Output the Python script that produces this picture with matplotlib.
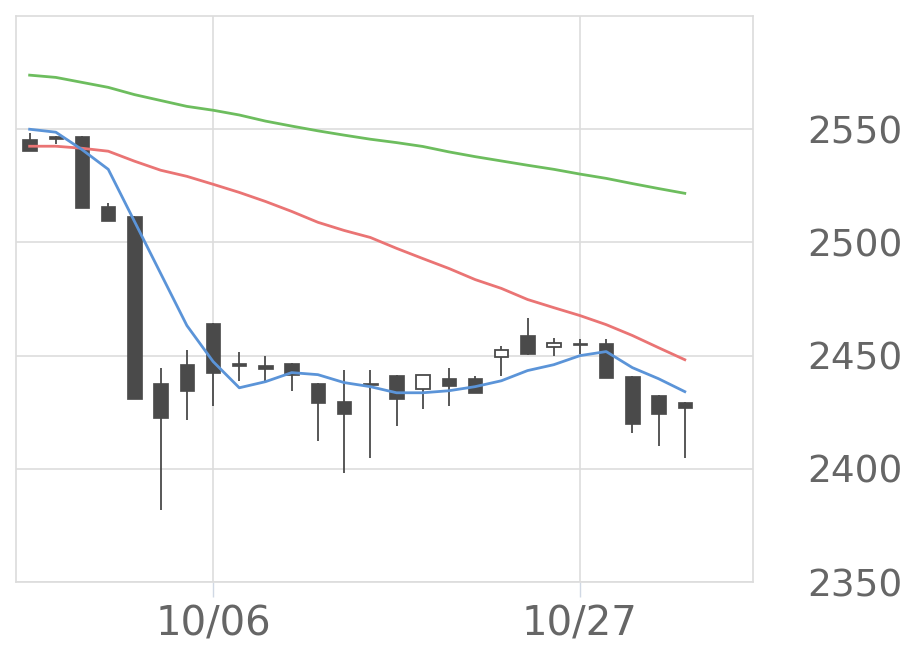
import matplotlib
matplotlib.use("Agg")
import matplotlib.pyplot as plt
import numpy as np

# trading days, 2014/09/25 - 2014/10/31
dates = ["09/25", "09/26", "09/29", "09/30", "10/01", "10/02", "10/03",
         "10/06", "10/07", "10/08", "10/09", "10/10", "10/14", "10/15",
         "10/16", "10/17", "10/20", "10/21", "10/22", "10/23", "10/24",
         "10/27", "10/28", "10/29", "10/30", "10/31"]

opens = [2545.6, 2546.9, 2546.9, 2515.9, 2511.5, 2438.1, 2446.5, 2464.6, 2446.9, 2446.0,
         2446.9, 2438.1, 2430.1, 2438.1, 2441.6, 2435.4, 2440.3, 2440.3, 2449.6, 2458.9,
         2454.0, 2455.8, 2455.8, 2441.2, 2432.7, 2429.7]
highs = [2548.2, 2546.9, 2546.9, 2517.3, 2511.5, 2444.7, 2452.7, 2464.6, 2451.8, 2450.0,
         2446.9, 2438.1, 2443.8, 2443.8, 2441.6, 2441.6, 2444.7, 2441.2, 2454.4, 2466.8,
         2458.0, 2457.5, 2457.5, 2441.2, 2432.7, 2429.7]
lows = [2540.3, 2543.4, 2515.0, 2509.3, 2431.0, 2381.9, 2421.7, 2427.9, 2438.9, 2438.5,
        2434.5, 2412.4, 2398.2, 2404.9, 2419.0, 2426.6, 2427.9, 2433.3, 2441.2, 2450.5,
        2450.0, 2450.9, 2440.3, 2415.9, 2410.2, 2404.9]
closes = [2540.3, 2545.6, 2515.0, 2509.3, 2431.0, 2422.6, 2434.5, 2442.5, 2445.6, 2444.2,
          2441.6, 2429.2, 2424.3, 2437.2, 2431.0, 2441.6, 2436.7, 2433.6, 2452.7, 2450.9,
          2455.8, 2454.9, 2440.3, 2419.9, 2424.3, 2427.0]

ma_short = [2550.0, 2548.7, 2541.0, 2532.3, 2509.3, 2486.3, 2463.3, 2447.4, 2435.8, 2438.5,
            2442.5, 2441.6, 2438.1, 2436.3, 2433.6, 2433.6, 2434.5, 2436.3, 2438.9, 2443.4,
            2446.0, 2450.0, 2451.8, 2444.7, 2439.8, 2434.1]
ma_mid = [2542.5, 2542.5, 2541.6, 2540.3, 2535.9, 2531.9, 2529.2, 2525.7, 2522.1, 2518.1,
          2513.7, 2508.9, 2505.3, 2502.2, 2497.4, 2492.9, 2488.5, 2483.6, 2479.7, 2474.8,
          2471.2, 2467.7, 2463.7, 2458.9, 2453.5, 2448.2]
ma_long = [2573.9, 2572.9, 2570.7, 2568.5, 2565.3, 2562.7, 2560.1, 2558.4, 2556.3, 2553.6,
           2551.4, 2549.3, 2547.4, 2545.6, 2544.1, 2542.4, 2540.0, 2537.9, 2536.0, 2534.1,
           2532.3, 2530.2, 2528.3, 2526.0, 2523.8, 2521.7]

xticklabels = ["10/06", "10/27"]
yticks = [2350, 2400, 2450, 2500, 2550]

dark = "#4a4a4a"
x = np.arange(len(dates))

fig = plt.figure(figsize=(9.2, 6.69), dpi=100)
ax = fig.add_axes([0.0174, 0.130, 0.801, 0.846])

# candles
for i in range(len(dates)):
    o, h, l, c = opens[i], highs[i], lows[i], closes[i]
    ax.vlines(x[i], l, h, color=dark, lw=1.3, zorder=2)
    bottom = min(o, c)
    height = max(abs(c - o), 0.6)
    if c >= o:
        ax.bar(x[i], height, 0.52, bottom=bottom, facecolor="white",
               edgecolor=dark, linewidth=1.3, zorder=3)
    else:
        ax.bar(x[i], height, 0.55, bottom=bottom, facecolor=dark,
               edgecolor=dark, linewidth=0.5, zorder=3)

ax.plot(x, ma_long, color="#6dbd5e", lw=2.0, zorder=4)
ax.plot(x, ma_mid, color="#ea7474", lw=2.0, zorder=4)
ax.plot(x, ma_short, color="#5b94d8", lw=2.0, zorder=4)

ax.set_xlim(-0.52, 27.6)
ax.set_ylim(2350, 2600)

ax.set_xticks([dates.index(d) for d in xticklabels])
ax.set_xticklabels(xticklabels)
ax.set_yticks(yticks)
ax.yaxis.tick_right()
for lab in ax.get_yticklabels():
    lab.set_verticalalignment("center_baseline")

ax.grid(True, color="#dddddd", lw=1.2, zorder=0)
ax.set_axisbelow(True)
for s in ax.spines.values():
    s.set_color("#dcdcdc")
    s.set_linewidth(1.2)

ax.tick_params(axis="x", length=11, width=1, color="#d0d8e4", pad=5,
               labelsize=29, labelcolor="#666666")
ax.tick_params(axis="y", length=0, pad=39, labelsize=27, labelcolor="#666666")

fig.savefig("out.png", dpi=100)
